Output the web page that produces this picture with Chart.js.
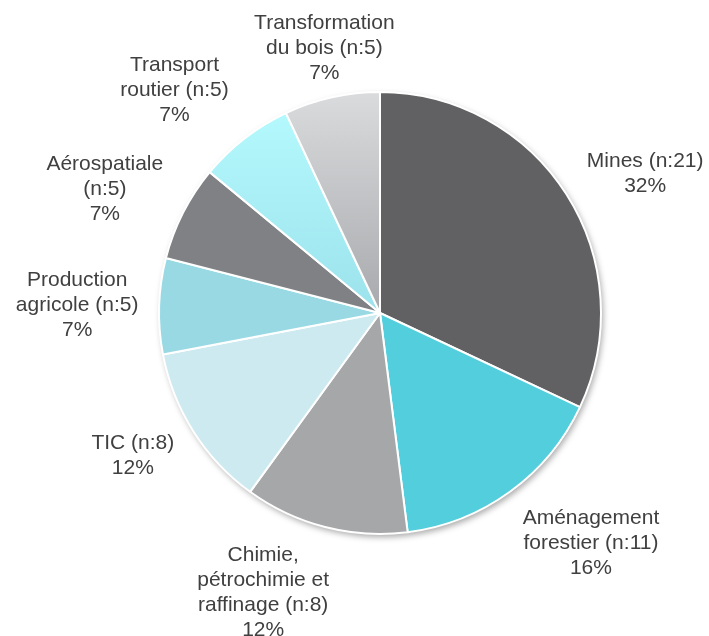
<!DOCTYPE html>
<html lang="fr">
  <head>
    <meta charset="utf-8" />
    <title>Répartition par secteur</title>
    <script src="https://cdn.jsdelivr.net/npm/chart.js"></script>
    <style>
      body { margin: 0; background: #fff; }
      #pie { display: block; }
    </style>
  </head>
  <body>
    <canvas id="pie" width="709" height="636"></canvas>
    <script>
      // data
      const sectors = ["Mines", "Aménagement forestier", "Chimie, pétrochimie et raffinage", "TIC",
        "Production agricole", "Aérospatiale", "Transport routier", "Transformation du bois"];
      const counts = [21, 11, 8, 8, 5, 5, 5, 5];
      const percents = [32, 16, 12, 12, 7, 7, 7, 7];

      // slice colours (two slices use a top-to-bottom gradient)
      const colors = ["#616163", "#52cedd", "#a6a7a9", "#cdeaf0", "#98d9e4", "#808185",
        ["#b6fbfe", "#9ce2ec"], ["#dadbdd", "#a8a9ac"]];

      // label layout: small nudges from the radial spot, in px
      const labelNudge = [[11, 22], [34, -13], [-42, -12], [7, -19], [-2, 2], [-7, 13], [-21, 15], [10, 29]];

      const RADIUS = 221;
      const FONT = '21px "Liberation Sans", Arial, sans-serif';
      const LINE_H = 25;

      function sliceColor(ctx) {
        const c = colors[ctx.dataIndex];
        if (!Array.isArray(c)) return c;
        const area = ctx.chart.chartArea;
        if (!area) return c[0];
        const cy = (area.top + area.bottom) / 2;
        const g = ctx.chart.ctx.createLinearGradient(0, cy - RADIUS, 0, cy);
        g.addColorStop(0, c[0]);
        g.addColorStop(1, c[1]);
        return g;
      }

      function wrap(ctx, text, maxW) {
        const words = text.split(" ");
        const lines = [];
        let cur = "";
        words.forEach((w) => {
          const t = cur ? cur + " " + w : w;
          if (cur && ctx.measureText(t).width > maxW) {
            lines.push(cur);
            cur = w;
          } else {
            cur = t;
          }
        });
        lines.push(cur);
        return lines;
      }

      const pieShadow = {
        id: "pieShadow",
        beforeDatasetsDraw(chart) {
          const arc = chart.getDatasetMeta(0).data[0];
          const ctx = chart.ctx;
          ctx.save();
          ctx.shadowColor = "rgba(0,0,0,0.35)";
          ctx.shadowBlur = 6;
          ctx.shadowOffsetX = 2;
          ctx.shadowOffsetY = 3;
          ctx.fillStyle = "#fff";
          ctx.beginPath();
          ctx.arc(arc.x, arc.y, arc.outerRadius, 0, Math.PI * 2);
          ctx.fill();
          ctx.restore();
        }
      };

      const outsideLabels = {
        id: "outsideLabels",
        afterDatasetsDraw(chart) {
          const ctx = chart.ctx;
          const meta = chart.getDatasetMeta(0);
          ctx.save();
          ctx.font = FONT;
          ctx.fillStyle = "#404040";
          ctx.textAlign = "center";
          ctx.textBaseline = "middle";
          meta.data.forEach((arc, i) => {
            const mid = (arc.startAngle + arc.endAngle) / 2;
            const r = arc.outerRadius + 80;
            const cx = arc.x + Math.cos(mid) * r + labelNudge[i][0];
            const cy = arc.y + Math.sin(mid) * r + labelNudge[i][1];
            const lines = wrap(ctx, sectors[i] + " (n:" + counts[i] + ")", 150);
            lines.push(percents[i] + "%");
            const y0 = cy - (lines.length - 1) * LINE_H / 2;
            lines.forEach((ln, k) => ctx.fillText(ln, cx, y0 + k * LINE_H));
          });
          ctx.restore();
        }
      };

      new Chart(document.getElementById("pie"), {
        type: "pie",
        data: {
          labels: sectors,
          datasets: [{
            data: percents,
            backgroundColor: sliceColor,
            borderColor: "#ffffff",
            borderWidth: 2,
            hoverOffset: 0
          }]
        },
        options: {
          responsive: false,
          animation: false,
          radius: RADIUS,
          layout: { padding: { left: 51, right: 0, top: 0, bottom: 10 } },
          plugins: {
            legend: { display: false },
            tooltip: { enabled: false }
          }
        },
        plugins: [pieShadow, outsideLabels]
      });
    </script>
  </body>
</html>
